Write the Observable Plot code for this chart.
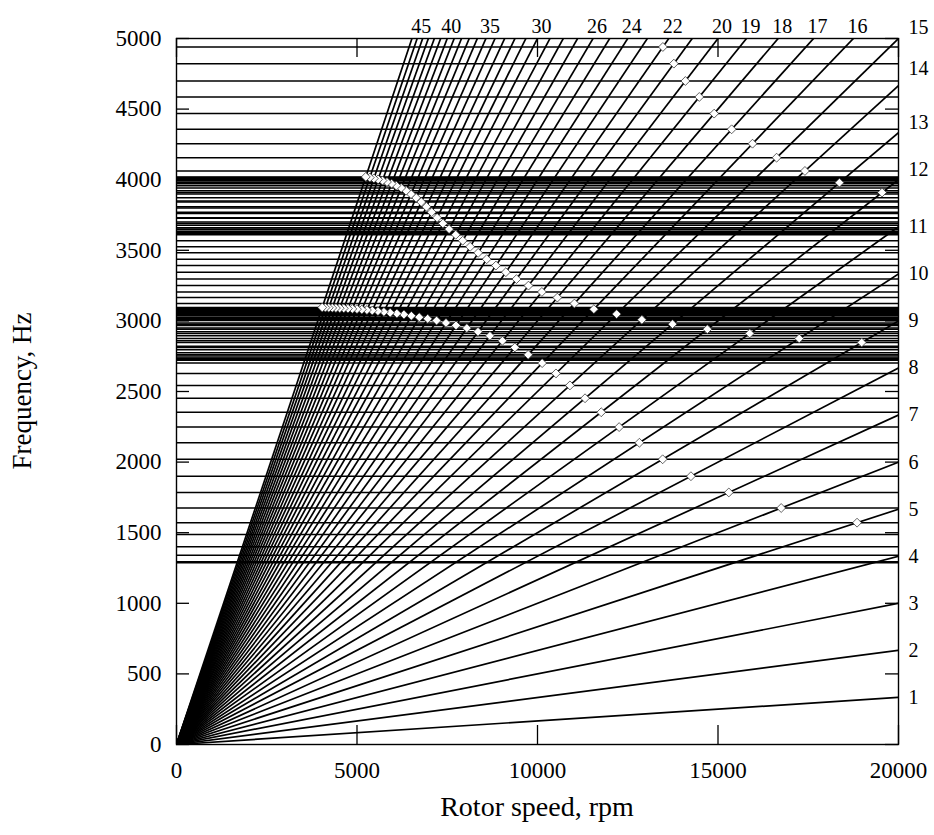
<!DOCTYPE html>
<html><head><meta charset="utf-8">
<script src="https://cdn.jsdelivr.net/npm/d3@7"></script>
<script src="https://cdn.jsdelivr.net/npm/@observablehq/plot@0.6"></script>
<style>body{margin:0;background:#fff}</style>
</head><body><div id="chart"></div>
<script>
// Engine orders drawn as rays from the origin
const engineOrders = [1,2,3,4,5,6,7,8,9,10,11,12,13,14,15,16,17,18,19,20,21,22,23,24,25,26,27,28,29,30,31,32,33,34,35,36,37,38,39,40,41,42,43,44,45,46];
// Mode frequencies (Hz) indexed by nodal diameter 0,1,2,...
const modeA = [3615,3618,3624,3633,3645,3660,3678,3700,3727,3760,3800,3850,3909,3979,4062,4156,4255,4357,4468,4586,4699,4822,4940];
const modeB = [2722,2724,2728,2735,2745,2758,2775,2795,2820,2847,2875,2911,2941,2977,3008,3048,3083,3123,3165,3205,3250,3296,3345,3392,3437,3482,3525,3568,3610,3650,3690,3730,3770,3808,3842,3872,3898,3922,3942,3958,3972,3984,3994,4002,4009,4015,4020];
const modeC = [1288,1294,1340,1400,1488,1571,1675,1785,1900,2020,2137,2248,2353,2452,2543,2628,2701,2760,2812,2859,2894,2923,2949,2968,2986,3002,3015,3026,3036,3045,3052,3058,3064,3069,3073,3077,3080,3083,3085,3087,3089,3090,3091,3092,3093,3094,3095];
const xTicks = [0,5000,10000,15000,20000];
const yTicks = [0,500,1000,1500,2000,2500,3000,3500,4000,4500,5000];
const topLabels = [45,40,35,30,26,24,22,20,19,18,17,16];
const rightLabelsLow = [1,2,3,4,5,6,7,8,9,10,11];
const rightLabelsMid = [12,13];
const rightLabelsHigh = [14];
const cornerLabel = [15];
const xTitle = "Rotor speed, rpm";
const yTitle = "Frequency, Hz";

const modes = [modeA, modeB, modeC];
const freqLines = modes.flat().filter(f => f <= 5000);
const points = [];
for (const m of modes) m.forEach((f, k) => {
  if (k < 1) return;
  const rpm = 60 * f / k;
  if (rpm <= 20000 && f <= 5000) points.push({rpm, f});
});

const W = 934, H = 835, mL = 176, mR = 36, mT = 38, mB = 91;
const pw = W - mL - mR, ph = H - mT - mB;
const fmt = d3.format("d");

const chart = Plot.plot({
  width: W, height: H,
  marginLeft: mL, marginRight: mR, marginTop: mT, marginBottom: mB,
  style: {fontFamily: "Liberation Serif", fontSize: "19px", background: "#fff", color: "#000"},
  x: {domain: [0, 20000]},
  y: {domain: [0, 5000]},
  marks: [
    Plot.ruleY(freqLines, {stroke: "black", strokeWidth: 1.5}),
    Plot.link(engineOrders, {x1: 0, y1: 0, x2: 20000, y2: k => k * 20000 / 60, stroke: "black", strokeWidth: 1.7, clip: true}),
    Plot.ruleY(yTicks, {stroke: "black", strokeWidth: 1.3, insetRight: pw - 13}),
    Plot.ruleY(yTicks, {stroke: "black", strokeWidth: 1.3, insetLeft: pw - 13}),
    Plot.ruleX(xTicks, {stroke: "black", strokeWidth: 1.3, insetBottom: ph - 19}),
    Plot.ruleX(xTicks, {stroke: "black", strokeWidth: 1.3, insetTop: ph - 19}),
    Plot.dot(points, {x: "rpm", y: "f", symbol: "diamond2", r: 4, fill: "white", stroke: "#222", strokeWidth: 0.7}),
    Plot.frame({stroke: "black", strokeWidth: 1.4}),
    Plot.axisX({ticks: xTicks, tickSize: 0, tickPadding: 17, tickFormat: fmt, label: null, fontSize: 23}),
    Plot.axisY({ticks: yTicks, tickSize: 0, tickPadding: 15, tickFormat: fmt, label: null, fontSize: 23}),
    Plot.text(topLabels, {x: k => 300000 / k, y: 5000, text: d => String(d), dy: -12, dx: 4, lineAnchor: "middle", fontSize: 20}),
    Plot.text(rightLabelsLow, {x: 20000, y: k => k * 20000 / 60, text: d => String(d), dx: 10, textAnchor: "start", fontSize: 20}),
    Plot.text(rightLabelsMid, {x: 20000, y: k => k * 20000 / 60, text: d => String(d), dx: 10, dy: -10, textAnchor: "start", fontSize: 20}),
    Plot.text(rightLabelsHigh, {x: 20000, y: k => k * 20000 / 60, text: d => String(d), dx: 10, dy: -17, textAnchor: "start", fontSize: 20}),
    Plot.text(cornerLabel, {x: 20000, y: 5000, text: d => String(d), dx: 10, dy: -11, textAnchor: "start", fontSize: 20})
  ]
});
const svg = d3.select(chart);
svg.append("text").text(xTitle)
  .attr("x", mL + pw / 2).attr("y", 806).attr("dy", "0.35em")
  .attr("text-anchor", "middle").attr("font-size", 28).attr("font-family", "Liberation Serif").attr("fill", "black");
svg.append("text").text(yTitle)
  .attr("transform", `translate(22,${mT + ph / 2}) rotate(-90)`).attr("dy", "0.35em")
  .attr("text-anchor", "middle").attr("font-size", 27).attr("font-family", "Liberation Serif").attr("fill", "black");
document.getElementById("chart").appendChild(chart);
</script>
</body></html>
